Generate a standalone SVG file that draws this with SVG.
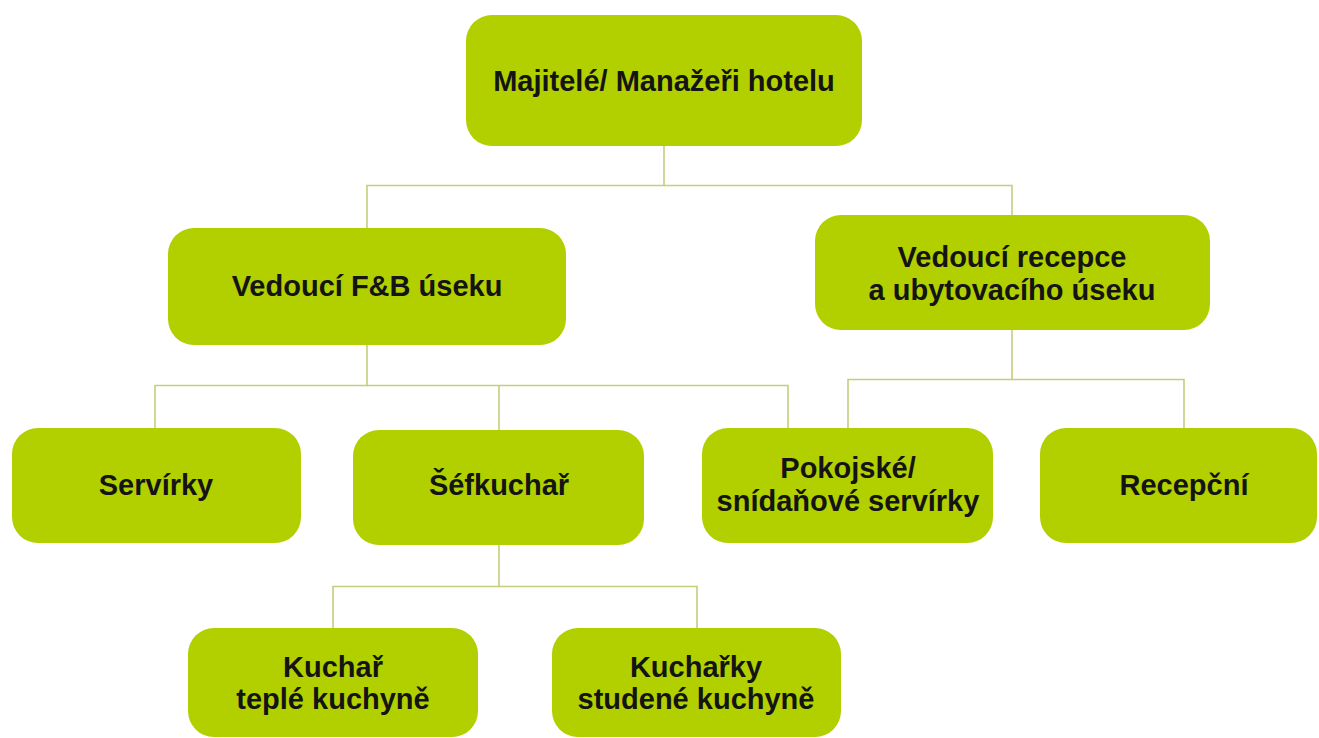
<svg xmlns="http://www.w3.org/2000/svg" width="1319" height="738" viewBox="0 0 1319 738">
<style>
.box{fill:#b2d000}
.lbl{font-family:"Liberation Sans",Arial,sans-serif;font-weight:bold;font-size:29px;fill:#141414;text-anchor:middle}
.conn{fill:none;stroke:#c6cd7c;stroke-width:1.6}
</style>
<rect width="1319" height="738" fill="#ffffff"/>
<g id="connectors" class="conn">
<polyline points="664,146 664,185.5 367,185.5 367,228"/>
<polyline points="664,185.5 1012,185.5 1012,215"/>
<polyline points="367,345 367,385.5 155,385.5 155,428"/>
<polyline points="367,385.5 788,385.5 788,428"/>
<polyline points="499,385.5 499,430"/>
<polyline points="1012,330 1012,379.5 848,379.5 848,428"/>
<polyline points="1012,379.5 1184,379.5 1184,428"/>
<polyline points="499,545 499,586.5 333,586.5 333,628"/>
<polyline points="499,586.5 697,586.5 697,628"/>
</g>
<g id="n-top"><rect class="box" x="466" y="15" width="396" height="131" rx="26"/><text class="lbl" x="664" y="91">Majitelé/ Manažeři hotelu</text></g>
<g id="n-fb"><rect class="box" x="168" y="228" width="398" height="117" rx="26"/><text class="lbl" x="367" y="296">Vedoucí F&amp;B úseku</text></g>
<g id="n-recepce"><rect class="box" x="815" y="215" width="395" height="115" rx="26"/><text class="lbl" x="1012" y="267">Vedoucí recepce</text><text class="lbl" x="1012" y="300">a ubytovacího úseku</text></g>
<g id="n-servirky"><rect class="box" x="12" y="428" width="289" height="115" rx="26"/><text class="lbl" x="156" y="495">Servírky</text></g>
<g id="n-sefkuchar"><rect class="box" x="353" y="430" width="291" height="115" rx="26"/><text class="lbl" x="499" y="495">Šéfkuchař</text></g>
<g id="n-pokojske"><rect class="box" x="702" y="428" width="291" height="115" rx="26"/><text class="lbl" x="848" y="478">Pokojské/</text><text class="lbl" x="848" y="511">snídaňové servírky</text></g>
<g id="n-recepcni"><rect class="box" x="1040" y="428" width="277" height="115" rx="26"/><text class="lbl" x="1184" y="495">Recepční</text></g>
<g id="n-kuchar"><rect class="box" x="188" y="628" width="290" height="109" rx="26"/><text class="lbl" x="333" y="677">Kuchař</text><text class="lbl" x="333" y="709">teplé kuchyně</text></g>
<g id="n-kucharky"><rect class="box" x="552" y="628" width="289" height="109" rx="26"/><text class="lbl" x="696" y="677">Kuchařky</text><text class="lbl" x="696" y="709">studené kuchyně</text></g>
</svg>
